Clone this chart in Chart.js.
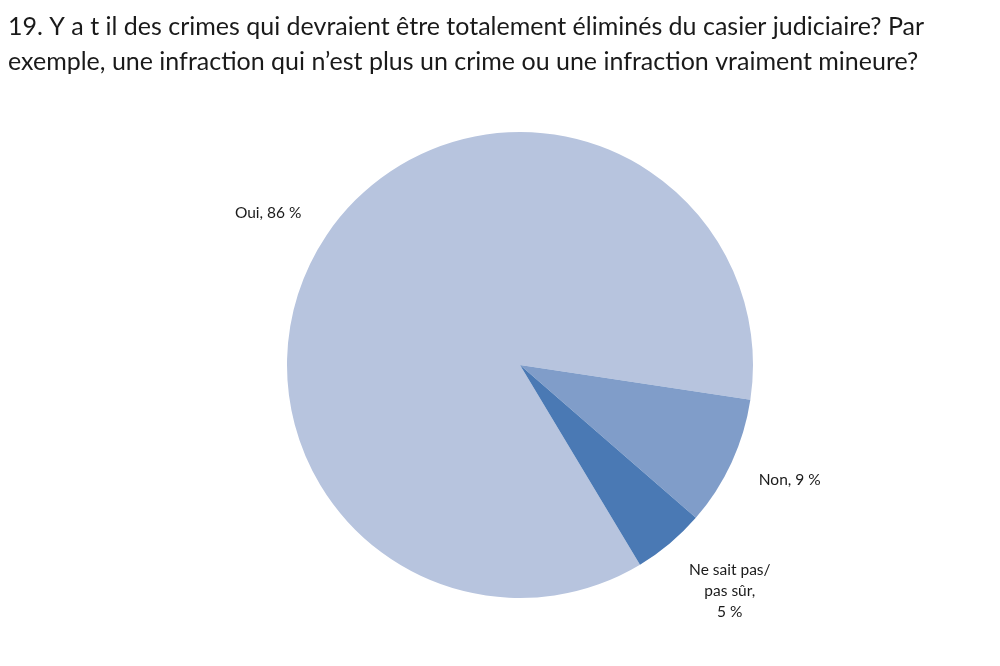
<!DOCTYPE html>
<html>
<head>
<meta charset="utf-8">
<script src="https://cdn.jsdelivr.net/npm/chart.js@4"></script>
<style>
  html, body { margin: 0; padding: 0; background: #fff; }
  #wrap { width: 1000px; height: 666px; }
</style>
</head>
<body>
<div id="wrap"><canvas id="pie"></canvas></div>
<script>
const titleLines = [
    "19. Y a t il des crimes qui devraient être totalement éliminés du casier judiciaire? Par",
    "exemple, une infraction qui n’est plus un crime ou une infraction vraiment mineure?"
];
const categories = ["Oui", "Non", "Ne sait pas/ pas sûr"];
const labelLines = [["Oui, 86 %"], ["Non, 9 %"], ["Ne sait pas/", "pas sûr,", "5 %"]];
const values = [86, 9, 5];
const colors = ["#b7c4de", "#809dc9", "#4a79b4"];

const FONT = "Lato, 'Open Sans', sans-serif";

// title drawn at the top left, like the original sheet
const titlePlugin = {
    id: "sheetTitle",
    afterDraw(chart) {
        const ctx = chart.ctx;
        ctx.save();
        ctx.fillStyle = "#1a1a1a";
        ctx.font = "25px " + FONT;
        ctx.textAlign = "left";
        ctx.textBaseline = "alphabetic";
        titleLines.forEach((line, i) => ctx.fillText(line, 8, 35 + i * 35));
        ctx.restore();
    }
};

// category labels outside the slices, excel "best fit" style
const outsideLabels = {
    id: "outsideLabels",
    afterDatasetsDraw(chart) {
        const ctx = chart.ctx;
        const meta = chart.getDatasetMeta(0);
        const lh = 21;
        ctx.save();
        ctx.fillStyle = "#1a1a1a";
        ctx.font = "15.5px " + FONT;
        ctx.textAlign = "center";
        ctx.textBaseline = "middle";
        meta.data.forEach((arc, i) => {
            const p = arc.getProps(["x", "y", "startAngle", "endAngle", "outerRadius"], true);
            const mid = (p.startAngle + p.endAngle) / 2;
            const dist = p.outerRadius + 30;
            const ax = p.x + Math.cos(mid) * dist;
            const ay = p.y + Math.sin(mid) * dist;
            const lines = labelLines[i];
            const w = Math.max(...lines.map(t => ctx.measureText(t).width));
            const h = lines.length * lh;
            const left = Math.cos(mid) >= 0 ? ax : ax - w;
            const cy = ay + Math.sin(mid) * h / 2;
            lines.forEach((t, j) => {
                ctx.fillText(t, left + w / 2, cy + (j - (lines.length - 1) / 2) * lh);
            });
        });
        ctx.restore();
    }
};

new Chart(document.getElementById("pie"), {
    type: "pie",
    data: {
        labels: categories,
        datasets: [{
            data: values,
            backgroundColor: colors,
            borderWidth: 0
        }]
    },
    options: {
        responsive: true,
        maintainAspectRatio: false,
        animation: false,
        rotation: 149,
        layout: { padding: { top: 132, bottom: 68, left: 40, right: 0 } },
        plugins: {
            legend: { display: false },
            title: { display: false },
            tooltip: { enabled: false }
        }
    },
    plugins: [titlePlugin, outsideLabels]
});
</script>
</body>
</html>
